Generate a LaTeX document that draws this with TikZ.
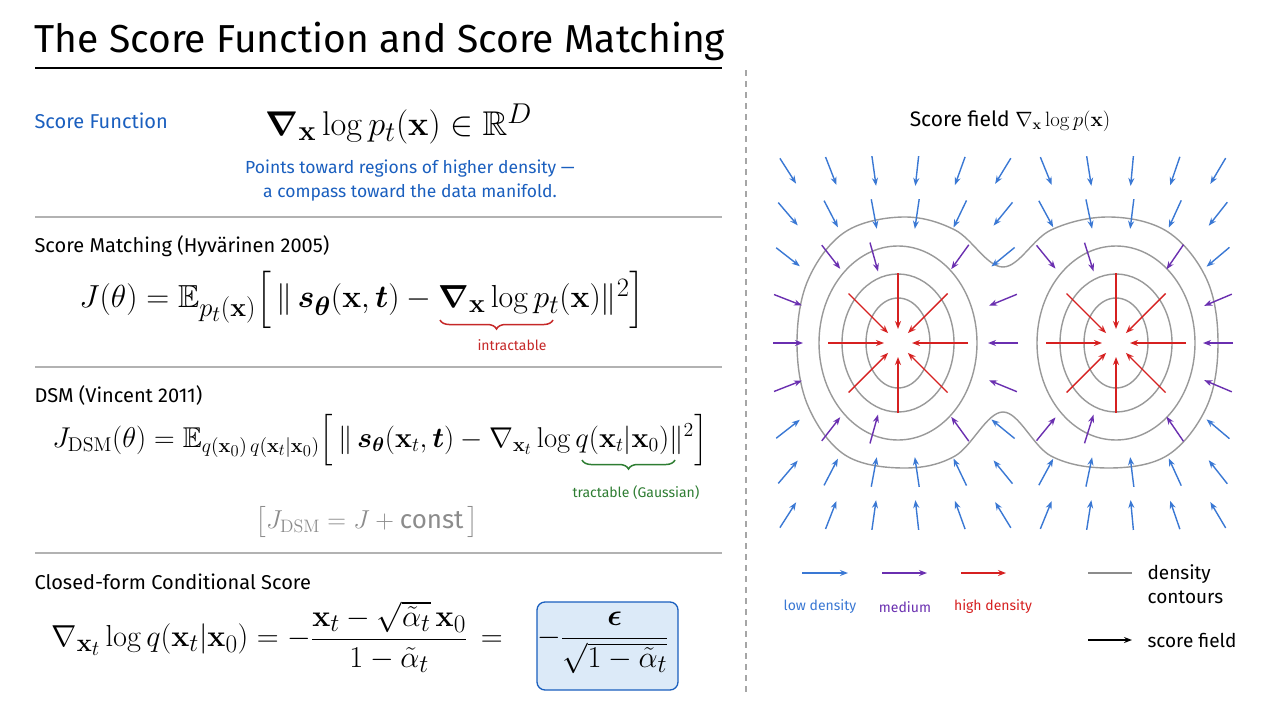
\documentclass[tikz,border=0pt]{standalone}
\usepackage{amsmath,amssymb,bm}
\usepackage[no-math]{fontspec}
\newfontfamily\hand{Fira Sans}
\usetikzlibrary{decorations.pathreplacing,arrows.meta}
\definecolor{tblue}{HTML}{1A5FBF}
\definecolor{tred}{HTML}{C62828}
\definecolor{tgreen}{HTML}{2E7D32}
\definecolor{apurple}{HTML}{6A2FB0}
\definecolor{ablue}{HTML}{3A78D4}
\definecolor{ared}{HTML}{D62020}
\definecolor{boxfill}{HTML}{DCEAF8}
\begin{document}
\begin{tikzpicture}[x=1pt,y=-1pt,
  lab/.style={anchor=west,font=\hand\fontsize{20}{22}\selectfont},
  sep/.style={draw=black!30,line width=1.5pt},
  fa/.style={-{Stealth[length=8pt,width=6pt]},line width=1.4pt},
  cont/.style={draw=black!40,line width=1.4pt},
  brc/.style={line width=1.5pt,decorate,decoration={brace,mirror,amplitude=9pt}},
  mth/.style={font=\fontsize{24.88}{30}\selectfont}]
\useasboundingbox (0,0) rectangle (1280,720);
\fill[white] (0,0) rectangle (1280,720);
% title
\node[anchor=west,font=\hand\fontsize{39}{42}\selectfont] (title) at (31,41) {The Score Function and Score Matching};
\draw[line width=2pt] (35,68) -- (722,68);
\draw[black!35,line width=1.5pt,dash pattern=on 6pt off 5pt] (746,70) -- (746,695);
\draw[sep] (35,217) -- (722,217);
\draw[sep] (35,367) -- (722,367);
\draw[sep] (35,553) -- (722,553);
% section 1
\node[lab,text=tblue] (s1) at (31,121) {Score Function};
\node[mth] (f1) at (399,124) {\scalebox{1.38}{$\boldsymbol{\nabla}_{\mathbf{x}}\log p_t(\mathbf{x})\in\mathbb{R}^D$}};
\node[font=\hand\fontsize{17.5}{24}\selectfont,text=tblue,align=center] (n1) at (410,181) {Points toward regions of higher density —\\a compass toward the data manifold.};
% section 2
\node[lab] (s2) at (31,246) {Score Matching (Hyvärinen 2005)};
\node[mth] (f2) at (362,300) {\scalebox{1.28}{$J(\theta)=\mathbb{E}_{p_t(\mathbf{x})}\Big[\,\|\,\boldsymbol{s}_{\boldsymbol\theta}(\mathbf{x},\boldsymbol{t})-\boldsymbol{\nabla}_{\mathbf{x}}\log p_t(\mathbf{x})\|^2\Big]$}};
\draw[tred,brc] (440,320) -- (553,320);
\node[font=\hand\fontsize{14}{16}\selectfont,text=tred] (l2) at (512,345) {intractable};
% section 3
\node[lab] (s3) at (31,395) {DSM (Vincent 2011)};
\node[font=\fontsize{20.74}{26}\selectfont] (f3) at (380,440) {\scalebox{1.38}{$J_{\mathrm{DSM}}(\theta)=\mathbb{E}_{q(\mathbf{x}_0)\,q(\mathbf{x}_t|\mathbf{x}_0)}\Big[\,\|\,\boldsymbol{s}_{\boldsymbol\theta}(\mathbf{x}_t,\boldsymbol{t})-\nabla_{\mathbf{x}_t}\log q(\mathbf{x}_t|\mathbf{x}_0)\|^2\Big]$}};
\draw[tgreen,brc] (582,460) -- (675,460);
\node[font=\hand\fontsize{14}{16}\selectfont,text=tgreen] (l3) at (636,493) {tractable (Gaussian)};
\node[font=\fontsize{20.74}{24}\selectfont,text=black!45] (c3) at (367,522) {\scalebox{1.25}{$\big[J_{\mathrm{DSM}}=J+\text{\hand const}\,\big]$}};
% section 4
\node[lab] (s4) at (31,582) {Closed-form Conditional Score};
\node[draw=tblue,fill=boxfill,rounded corners=8pt,line width=1.3pt,minimum width=141pt,minimum height=88pt] (bx) at (607.5,646) {};
\node[mth,anchor=west] (f4) at (48,637) {\scalebox{1.22}{$\nabla_{\mathbf{x}_t}\log q(\mathbf{x}_t|\mathbf{x}_0)=-\dfrac{\mathbf{x}_t-\sqrt{\tilde\alpha_t}\,\mathbf{x}_0}{1-\tilde\alpha_t}\,=$}};
\node[mth] (f5) at (603,643) {\scalebox{1.22}{$-\dfrac{\boldsymbol\epsilon}{\sqrt{1-\tilde\alpha_t}}$}};
% right panel
\node[font=\hand\fontsize{21}{24}\selectfont] (rt) at (1010,121) {Score field $\nabla_{\mathbf{x}}\log p(\mathbf{x})$};
% contours
\foreach \cx in {898,1116}{
  \draw[cont] (\cx,343) ellipse [x radius=32,y radius=45];
  \draw[cont] (\cx,343) ellipse [x radius=56,y radius=69];
  \draw[cont] (\cx,343) ellipse [x radius=79,y radius=97];
}
\draw[cont] plot[smooth cycle,tension=0.6] coordinates {(797,343) (808,280) (845,232) (903,217) (955,230) (1003,267) (1051,230) (1110,217) (1168,232) (1207,280) (1218,343) (1207,406) (1168,455) (1110,468) (1051,456) (1003,412) (955,456) (903,468) (845,455) (808,406)};
% grid arrows
\foreach \i in {-5,...,5}{
 \foreach \j in {-4,...,4}{
  \pgfmathsetmacro{\dxa}{-2.442-\i}
  \pgfmathsetmacro{\dxb}{2.628-\i}
  \pgfmathsetmacro{\dy}{-\j}
  \pgfmathsetmacro{\da}{veclen(\dxa,\dy)}
  \pgfmathsetmacro{\db}{veclen(\dxb,\dy)}
  \pgfmathsetmacro{\dd}{min(\da,\db)}
  \pgfmathsetmacro{\ang}{(\da<\db) ? atan2(\dy,\dxa) : atan2(\dy,\dxb)}
  \pgfmathsetmacro{\px}{1003+43*\i}
  \pgfmathsetmacro{\py}{343+43*\j}
  \pgfmathsetmacro{\ux}{15*cos(\ang)}
  \pgfmathsetmacro{\uy}{15*sin(\ang)}
  \pgfmathsetmacro{\col}{(\dd<2.9) ? 1 : 0}
  \ifdim\dd pt>2.05pt
   \ifdim\col pt>0.5pt
    \draw[fa,apurple] (\px-\ux,\py-\uy) -- (\px+\ux,\py+\uy);
   \else
    \draw[fa,ablue] (\px-\ux,\py-\uy) -- (\px+\ux,\py+\uy);
   \fi
  \fi
 }}
% red radial arrows
\foreach \cx in {898,1116}{
 \foreach \a in {0,45,...,315}{
  \draw[fa,ared] ({\cx+70*cos(\a)},{343+70*sin(\a)}) -- ({\cx+14*cos(\a)},{343+14*sin(\a)});
 }}
% legend
\coordinate (lb1) at (802,573); \coordinate (lb2) at (848,573);
\coordinate (lp1) at (882,573); \coordinate (lp2) at (927,573);
\coordinate (lr1) at (961,573); \coordinate (lr2) at (1006,573);
\draw[fa,ablue] (lb1) -- (lb2);
\draw[fa,apurple] (lp1) -- (lp2);
\draw[fa,ared] (lr1) -- (lr2);
\node[font=\hand\fontsize{14}{16}\selectfont,text=ablue] (t1) at (820,607) {low density};
\node[font=\hand\fontsize{14}{16}\selectfont,text=apurple] (t2) at (905,607) {medium};
\node[font=\hand\fontsize{14}{16}\selectfont,text=ared] (t3) at (993,607) {high density};
\coordinate (lg1) at (1088,573); \coordinate (lg2) at (1132,573);
\draw[black!45,line width=2pt] (lg1) -- (lg2);
\node[anchor=west,align=left,font=\hand\fontsize{19}{24}\selectfont] (t4) at (1144,584) {density\\contours};
\coordinate (lk1) at (1088,640); \coordinate (lk2) at (1132,640);
\draw[fa,black] (lk1) -- (lk2);
\node[anchor=west,font=\hand\fontsize{19}{22}\selectfont] (t5) at (1144,640) {score field};
\end{tikzpicture}
\end{document}
